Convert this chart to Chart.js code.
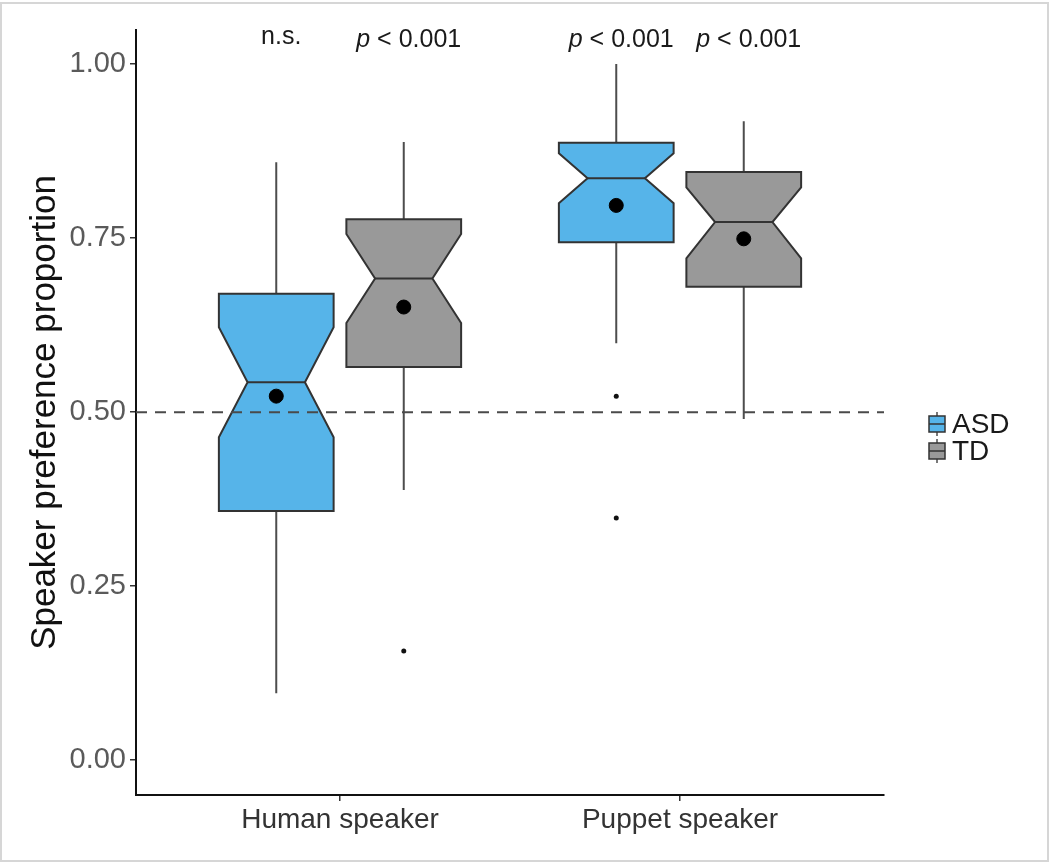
<!DOCTYPE html>
<html>
<head>
<meta charset="utf-8">
<script src="https://cdn.jsdelivr.net/npm/chart.js@4.4.1/dist/chart.umd.min.js"></script>
<style>
  html, body { margin: 0; padding: 0; background: #fff; }
  #wrap { position: absolute; left: 0; top: 0; width: 1050px; height: 865px; }
</style>
</head>
<body>
<div id="wrap"><canvas id="c" width="1050" height="865"></canvas></div>
<script>
// ---- data ----
const categories = ['Human speaker', 'Puppet speaker'];
const groups = ['ASD', 'TD'];
const groupColors = ['#56B4E9', '#999999'];
const yTicks = [0, 0.25, 0.5, 0.75, 1.0];

const asdLow     = [0.096, 0.599];
const asdQ1      = [0.358, 0.744];
const asdMedian  = [0.543, 0.836];
const asdQ3      = [0.670, 0.887];
const asdHigh    = [0.859, 1.000];
const asdNotchLo = [0.464, 0.800];
const asdNotchHi = [0.622, 0.872];
const asdMean    = [0.523, 0.797];
const asdOutliers = [[], [0.523, 0.348]];

const tdLow      = [0.388, 0.490];
const tdQ1       = [0.565, 0.680];
const tdMedian   = [0.692, 0.773];
const tdQ3       = [0.777, 0.845];
const tdHigh     = [0.888, 0.918];
const tdNotchLo  = [0.628, 0.721];
const tdNotchHi  = [0.756, 0.823];
const tdMean     = [0.651, 0.749];
const tdOutliers = [[0.157], []];

const chanceLevel = 0.5;
const annotations = [['n.s.', 'p < 0.001'], ['p < 0.001', 'p < 0.001']];
const annotationY = 1.034;

// ---- layout constants (not data) ----
const DODGE = 0.1875;
const HALF_W = 0.16875;
const NOTCH_FRAC = 0.5;
const FONT = "'Liberation Sans', Arial, sans-serif";

const stats = [
  {low: asdLow, q1: asdQ1, med: asdMedian, q3: asdQ3, high: asdHigh, nlo: asdNotchLo, nhi: asdNotchHi, mean: asdMean, out: asdOutliers},
  {low: tdLow, q1: tdQ1, med: tdMedian, q3: tdQ3, high: tdHigh, nlo: tdNotchLo, nhi: tdNotchHi, mean: tdMean, out: tdOutliers}
];
const xPos = (ci, gi) => ci + 1 + (gi === 0 ? -DODGE : DODGE);

const boxPlugin = {
  id: 'notchedBoxes',
  beforeDraw(chart) {
    const ctx = chart.ctx;
    ctx.save();
    ctx.fillStyle = '#ffffff';
    ctx.fillRect(0, 0, chart.width, chart.height);
    ctx.strokeStyle = '#d6d6d6';
    ctx.lineWidth = 2;
    ctx.strokeRect(1, 3, chart.width - 3, chart.height - 7);
    ctx.restore();
  },
  beforeDatasetsDraw(chart) {
    const ctx = chart.ctx;
    const xs = chart.scales.x, ys = chart.scales.y;
    ctx.save();
    stats.forEach((s, gi) => {
      categories.forEach((c, ci) => {
        const xc = xs.getPixelForValue(xPos(ci, gi));
        const xl = xs.getPixelForValue(xPos(ci, gi) - HALF_W);
        const xr = xs.getPixelForValue(xPos(ci, gi) + HALF_W);
        const hw = (xr - xl) / 2;
        const nl = xc - hw * NOTCH_FRAC, nr = xc + hw * NOTCH_FRAC;
        const Y = v => ys.getPixelForValue(v);
        // whiskers
        ctx.strokeStyle = '#4d4d4d';
        ctx.lineWidth = 2;
        ctx.beginPath();
        ctx.moveTo(xc, Y(s.q3[ci])); ctx.lineTo(xc, Y(s.high[ci]));
        ctx.moveTo(xc, Y(s.q1[ci])); ctx.lineTo(xc, Y(s.low[ci]));
        ctx.stroke();
        // notched box
        ctx.beginPath();
        ctx.moveTo(xl, Y(s.q3[ci]));
        ctx.lineTo(xr, Y(s.q3[ci]));
        ctx.lineTo(xr, Y(s.nhi[ci]));
        ctx.lineTo(nr, Y(s.med[ci]));
        ctx.lineTo(xr, Y(s.nlo[ci]));
        ctx.lineTo(xr, Y(s.q1[ci]));
        ctx.lineTo(xl, Y(s.q1[ci]));
        ctx.lineTo(xl, Y(s.nlo[ci]));
        ctx.lineTo(nl, Y(s.med[ci]));
        ctx.lineTo(xl, Y(s.nhi[ci]));
        ctx.closePath();
        ctx.fillStyle = groupColors[gi];
        ctx.fill();
        ctx.strokeStyle = '#333333';
        ctx.lineWidth = 2;
        ctx.lineJoin = 'miter';
        ctx.stroke();
        // median
        ctx.beginPath();
        ctx.moveTo(nl, Y(s.med[ci])); ctx.lineTo(nr, Y(s.med[ci]));
        ctx.stroke();
      });
    });
    ctx.restore();
  },
  afterDraw(chart) {
    const ctx = chart.ctx;
    const xs = chart.scales.x, ys = chart.scales.y;
    ctx.save();
    ctx.fillStyle = '#1a1a1a';
    ctx.textBaseline = 'middle';
    const y = ys.getPixelForValue(annotationY);
    annotations.forEach((row, ci) => {
      row.forEach((txt, gi) => {
        const xc = xs.getPixelForValue(xPos(ci, gi));
        if (txt.startsWith('p ')) {
          const head = 'p', tail = txt.slice(1);
          ctx.font = 'italic 25px ' + FONT;
          const w1 = ctx.measureText(head).width;
          ctx.font = '25px ' + FONT;
          const w2 = ctx.measureText(tail).width;
          let x0 = xc - (w1 + w2) / 2 + 5;
          ctx.textAlign = 'left';
          ctx.font = 'italic 25px ' + FONT;
          ctx.fillText(head, x0, y);
          ctx.font = '25px ' + FONT;
          ctx.fillText(tail, x0 + w1, y);
        } else {
          ctx.font = '25px ' + FONT;
          ctx.textAlign = 'center';
          ctx.fillText(txt, xc + 5, y - 3);
        }
      });
    });
    // legend
    const lx = 937, ly0 = 424, step = 27;
    groups.forEach((g, gi) => {
      const cy = ly0 + gi * step;
      ctx.strokeStyle = '#4d4d4d';
      ctx.lineWidth = 1.5;
      ctx.beginPath();
      ctx.moveTo(lx, cy - 12); ctx.lineTo(lx, cy + 12);
      ctx.stroke();
      ctx.fillStyle = groupColors[gi];
      ctx.fillRect(lx - 8, cy - 8, 16, 16);
      ctx.strokeStyle = '#333';
      ctx.strokeRect(lx - 8, cy - 8, 16, 16);
      ctx.beginPath();
      ctx.moveTo(lx - 8, cy); ctx.lineTo(lx + 8, cy);
      ctx.stroke();
      ctx.fillStyle = '#1a1a1a';
      ctx.font = '28px ' + FONT;
      ctx.textAlign = 'left';
      ctx.textBaseline = 'middle';
      ctx.fillText(g, 952, cy + 1);
    });
    ctx.restore();
  }
};

const datasets = [
  {
    type: 'line',
    label: 'chance',
    data: [{x: 0.4, y: chanceLevel}, {x: 2.6, y: chanceLevel}],
    borderColor: '#4a4a4a', borderWidth: 2, borderDash: [11, 8],
    pointRadius: 0, fill: false, order: 3
  }
];
stats.forEach((s, gi) => {
  datasets.push({
    type: 'scatter', label: groups[gi] + ' mean',
    data: categories.map((c, ci) => ({x: xPos(ci, gi), y: s.mean[ci]})),
    backgroundColor: '#000', borderColor: '#000', pointRadius: 7, order: 1
  });
  const outs = [];
  categories.forEach((c, ci) => s.out[ci].forEach(v => outs.push({x: xPos(ci, gi), y: v})));
  datasets.push({
    type: 'scatter', label: groups[gi] + ' outliers',
    data: outs, backgroundColor: '#111', borderColor: '#111', pointRadius: 2.5, borderWidth: 0, order: 2
  });
});

new Chart(document.getElementById('c'), {
  type: 'scatter',
  data: { datasets },
  plugins: [boxPlugin],
  options: {
    responsive: false,
    animation: false,
    devicePixelRatio: 1,
    layout: { padding: { top: 30, right: 166, bottom: 0, left: 0 } },
    plugins: { legend: { display: false }, tooltip: { enabled: false } },
    scales: {
      x: {
        type: 'linear', min: 0.4, max: 2.6,
        afterBuildTicks: s => { s.ticks = categories.map((c, i) => ({value: i + 1})); },
        afterFit: s => { s.height = 70; },
        ticks: {
          callback: v => categories[Math.round(v) - 1] || '',
          font: { size: 28, family: FONT }, color: '#333333', padding: 2, maxRotation: 0, autoSkip: false
        },
        grid: { display: true, drawOnChartArea: false, drawTicks: true, tickLength: 6, color: '#333', lineWidth: 1.5 },
        border: { display: true, color: '#111', width: 2 }
      },
      y: {
        type: 'linear', min: -0.05, max: 1.049,
        afterBuildTicks: s => { s.ticks = yTicks.map(v => ({value: v})); },
        afterFit: s => { s.width = 136; },
        ticks: {
          callback: v => Number(v).toFixed(2),
          font: { size: 29, family: FONT }, color: '#5a5a5a', padding: 4
        },
        grid: { display: true, drawOnChartArea: false, drawTicks: true, tickLength: 6, color: '#333', lineWidth: 1.5 },
        border: { display: true, color: '#111', width: 2 }
        ,
        title: {
          display: true, text: 'Speaker preference proportion',
          font: { size: 35, family: FONT }, color: '#111', padding: { top: 24, bottom: 0 }
        }
      }
    }
  }
});
</script>
</body>
</html>
